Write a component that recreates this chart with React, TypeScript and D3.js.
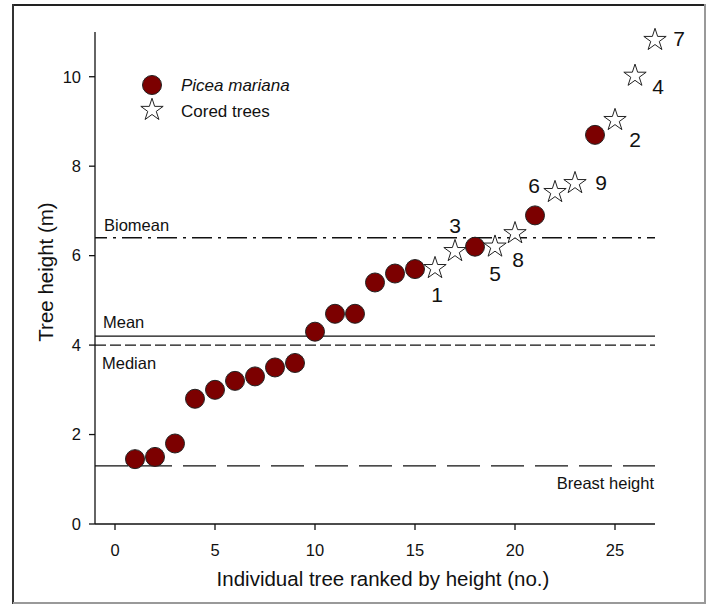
import React from "react";
import * as d3 from "d3";

// ---- data ----
const spruceRank = [1, 2, 3, 4, 5, 6, 7, 8, 9, 10, 11, 12, 13, 14, 15, 18, 21, 24];
const spruceHeight = [1.45, 1.5, 1.8, 2.8, 3.0, 3.2, 3.3, 3.5, 3.6, 4.3, 4.7, 4.7, 5.4, 5.6, 5.7, 6.2, 6.9, 8.7];
const coredRank = [16, 17, 19, 20, 22, 23, 25, 26, 27];
const coredHeight = [5.72, 6.1, 6.2, 6.5, 7.42, 7.62, 9.03, 10.02, 10.82];
const coredLabel = ["1", "3", "5", "8", "6", "9", "2", "4", "7"];
const refNames = ["Biomean", "Mean", "Median", "Breast height"];
const refValues = [6.4, 4.2, 4.0, 1.3];
const xTicks = [0, 5, 10, 15, 20, 25];
const yTicks = [0, 2, 4, 6, 8, 10];
const xDomain = [-1, 27];
const yDomain = [0, 11];

// label placement relative to star (px): [dx, dy]
const labelOffsets: [number, number][] = [
  [2, 34], [0, -18], [0, 34], [3, 34], [-21, 1], [26, 7], [20, 27], [23, 18], [24, 6],
];

const W = 708;
const H = 605;
const L = 95, R = 655, T = 32, B = 524;
const FONT = "'Liberation Sans', Arial, Helvetica, sans-serif";
const FILL = "#7c0000";

export default function App() {
  const x = d3.scaleLinear().domain(xDomain).range([L, R]);
  const y = d3.scaleLinear().domain(yDomain).range([B, T]);
  const star = d3.symbol().type(d3.symbolStar).size(155)() as string;
  const circleR = 9.5;

  const refStyle: Record<string, { dash: string; offset: number }> = {
    Biomean: { dash: "20 6 3 6", offset: 8 },
    Mean: { dash: "", offset: 0 },
    Median: { dash: "11 4", offset: 0 },
    "Breast height": { dash: "33 11", offset: 0 },
  };

  return (
    <svg
      width={W}
      height={H}
      style={{ position: "absolute", left: 0, top: 0, background: "#fff" }}
      fontFamily={FONT}
    >
      {/* frame */}
      <line x1={13} y1={5} x2={705} y2={5} stroke="#222" strokeWidth={2} />
      <line x1={13} y1={4} x2={13} y2={604} stroke="#333" strokeWidth={2} />
      <line x1={705} y1={4} x2={705} y2={604} stroke="#999" strokeWidth={2} />
      <line x1={13} y1={603} x2={706} y2={603} stroke="#999" strokeWidth={2} />

      {/* reference lines */}
      {refNames.map((n, i) => (
        <line
          key={n}
          x1={L}
          x2={R}
          y1={y(refValues[i])}
          y2={y(refValues[i])}
          stroke="#111"
          strokeWidth={1.3}
          strokeDasharray={refStyle[n].dash || undefined}
          strokeDashoffset={refStyle[n].offset}
        />
      ))}
      <text x={104} y={y(refValues[0]) - 7} fontSize={16.5} fill="#111">{refNames[0]}</text>
      <text x={103} y={y(refValues[1]) - 8} fontSize={16.5} fill="#111">{refNames[1]}</text>
      <text x={102} y={y(refValues[2]) + 24} fontSize={16.5} fill="#111">{refNames[2]}</text>
      <text x={654} y={y(refValues[3]) + 23} fontSize={16.5} fill="#111" textAnchor="end">{refNames[3]}</text>

      {/* axes */}
      <line x1={L} x2={L} y1={T} y2={B} stroke="#111" strokeWidth={1.3} />
      <line x1={L} x2={R} y1={B} y2={B} stroke="#111" strokeWidth={1.3} />
      {yTicks.map((t) => (
        <g key={"y" + t}>
          <line x1={L - 6} x2={L} y1={y(t)} y2={y(t)} stroke="#111" strokeWidth={1.3} />
          <text x={L - 14} y={y(t)} dy="0.35em" fontSize={16.5} textAnchor="end" fill="#111">{t}</text>
        </g>
      ))}
      {xTicks.map((t) => (
        <g key={"x" + t}>
          <line x1={x(t)} x2={x(t)} y1={B} y2={B + 6} stroke="#111" strokeWidth={1.3} />
          <text x={x(t)} y={556} fontSize={16.5} textAnchor="middle" fill="#111">{t}</text>
        </g>
      ))}
      <text x={383} y={586} fontSize={20.5} textAnchor="middle" fill="#111">
        Individual tree ranked by height (no.)
      </text>
      <text
        transform={`translate(53, ${(T + B) / 2 - 6}) rotate(-90)`}
        fontSize={20.5}
        textAnchor="middle"
        fill="#111"
      >
        Tree height (m)
      </text>

      {/* spruce points */}
      {spruceRank.map((r, i) => (
        <circle key={"c" + r} cx={x(r)} cy={y(spruceHeight[i])} r={circleR} fill={FILL} stroke="#222" strokeWidth={1} />
      ))}

      {/* cored trees */}
      {coredRank.map((r, i) => (
        <g key={"s" + r} transform={`translate(${x(r)}, ${y(coredHeight[i])})`}>
          <path d={star} fill="#fff" stroke="#222" strokeWidth={1} />
          <text
            x={labelOffsets[i][0]}
            y={labelOffsets[i][1]}
            fontSize={21}
            textAnchor="middle"
            fill="#111"
          >
            {coredLabel[i]}
          </text>
        </g>
      ))}

      {/* legend */}
      <circle cx={152} cy={85} r={circleR} fill={FILL} stroke="#222" strokeWidth={1} />
      <text x={181} y={91} fontSize={17} fontStyle="italic" fill="#111">Picea mariana</text>
      <path d={star} transform="translate(152, 110)" fill="#fff" stroke="#222" strokeWidth={1} />
      <text x={181} y={117} fontSize={17} fill="#111">Cored trees</text>
    </svg>
  );
}
